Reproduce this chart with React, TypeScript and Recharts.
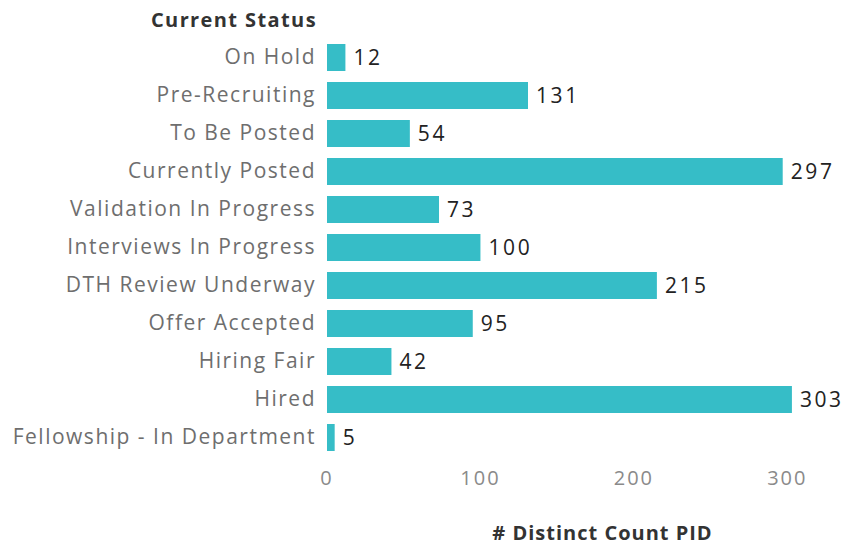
import { BarChart, Bar, XAxis, YAxis, LabelList } from 'recharts';

const statuses = [
  'On Hold',
  'Pre-Recruiting',
  'To Be Posted',
  'Currently Posted',
  'Validation In Progress',
  'Interviews In Progress',
  'DTH Review Underway',
  'Offer Accepted',
  'Hiring Fair',
  'Hired',
  'Fellowship - In Department',
];

const counts = [12, 131, 54, 297, 73, 100, 215, 95, 42, 303, 5];

const xTicks = [0, 100, 200, 300];

const data = statuses.map((s, i) => ({ status: s, count: counts[i] }));

const FONT = '"Open Sans", sans-serif';

export default function App() {
  return (
    <div style={{ position: 'absolute', left: 0, top: 0, width: 849, height: 546, background: '#fff', fontFamily: FONT }}>
      <div
        style={{
          position: 'absolute',
          right: 849 - 317,
          top: 6,
          fontSize: 20,
          fontWeight: 700,
          letterSpacing: 1.4,
          color: '#333',
          whiteSpace: 'nowrap',
        }}
      >
        Current Status
      </div>
      <BarChart
        width={849}
        height={546}
        data={data}
        layout="vertical"
        margin={{ top: 38, right: 31, bottom: 0, left: 0 }}
      >
        <XAxis
          type="number"
          domain={[0, 320]}
          ticks={xTicks}
          axisLine={false}
          tickLine={false}
          tickSize={0}
          tickMargin={15}
          height={90}
          tick={{ fontSize: 20, fill: '#8a8a8a', fontFamily: FONT, letterSpacing: 2 }}
          label={{
            value: '# Distinct Count PID',
            position: 'insideBottom',
            offset: 6,
            dx: 30,
            style: { fontSize: 20, fontWeight: 700, fill: '#333', fontFamily: FONT, letterSpacing: 1 },
          }}
        />
        <YAxis
          type="category"
          dataKey="status"
          width={327}
          axisLine={false}
          tickLine={false}
          tickSize={0}
          tickMargin={11}
          interval={0}
          tick={{ fontSize: 21, fill: '#6e6e6e', fontFamily: FONT, letterSpacing: 1.5 }}
        />
        <Bar dataKey="count" fill="#36bdc7" barSize={27} isAnimationActive={false}>
          <LabelList
            dataKey="count"
            position="right"
            offset={8}
            style={{ fontSize: 21, fill: '#222', fontFamily: FONT, letterSpacing: 2.6 }}
          />
        </Bar>
      </BarChart>
    </div>
  );
}
